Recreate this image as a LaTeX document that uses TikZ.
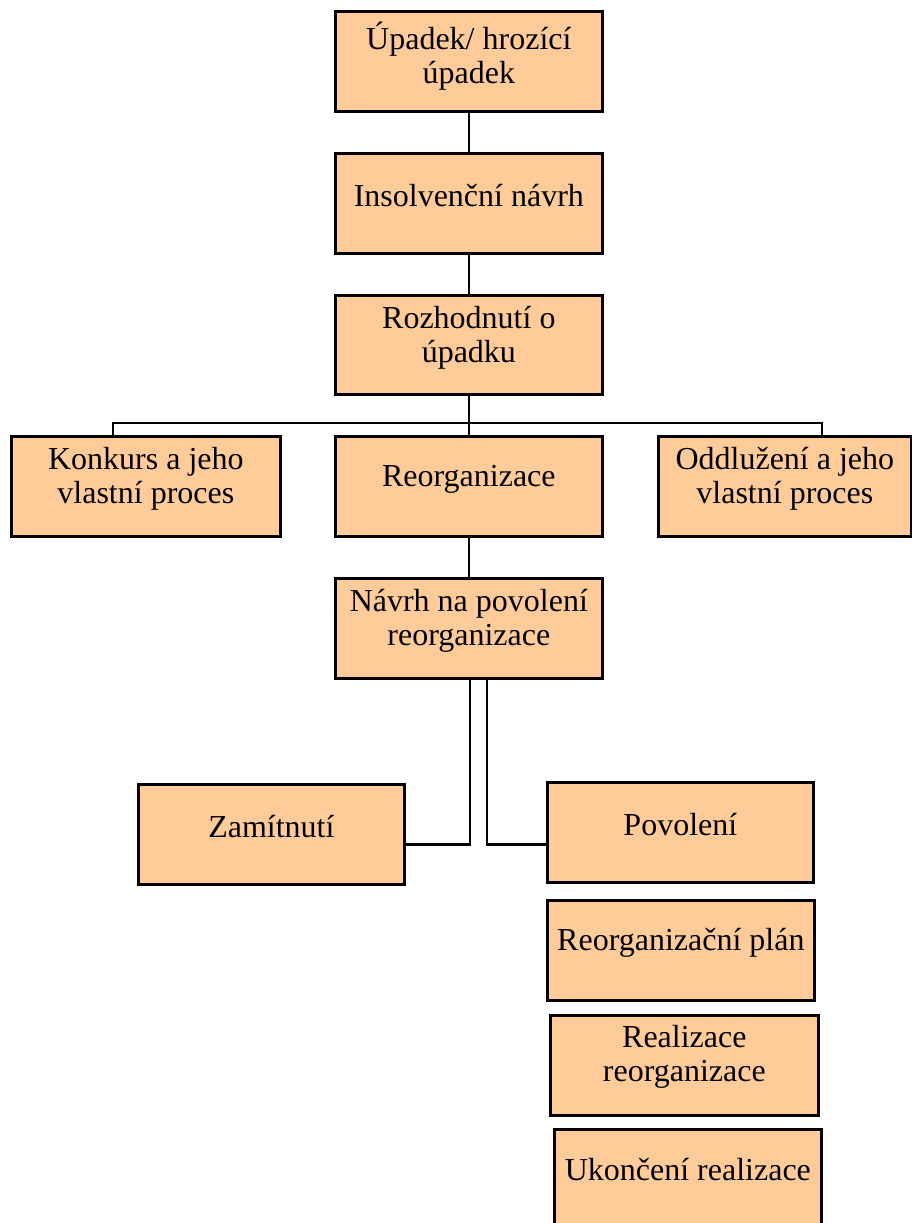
\documentclass[tikz,border=0pt]{standalone}
\usepackage{fontspec}
\setmainfont{Liberation Serif}
\definecolor{peach}{RGB}{255,204,153}
\begin{document}
\begin{tikzpicture}[x=1pt,y=-1pt,
  box/.style={draw=black, line width=2.7pt, fill=peach, rectangle, inner sep=0pt, anchor=north west},
  lbl/.style={align=center, inner sep=0pt, font=\fontsize{32}{33.5}\selectfont},
  conn/.style={draw=black, line width=2.6pt}]
\useasboundingbox (0,0) rectangle (911,1223);
% boxes
\node[box, minimum width=267pt, minimum height=100pt] (A) at (334,10) {};
\node[box, minimum width=267pt, minimum height=100pt] (B) at (334,152) {};
\node[box, minimum width=267pt, minimum height=99pt]  (C) at (334,294) {};
\node[box, minimum width=269pt, minimum height=100pt] (D) at (10,435) {};
\node[box, minimum width=267pt, minimum height=100pt] (E) at (334,435) {};
\node[box, minimum width=253pt, minimum height=100pt] (F) at (657,435) {};
\node[box, minimum width=267pt, minimum height=100pt] (G) at (334,577) {};
\node[box, minimum width=266pt, minimum height=100pt] (H) at (137,783) {};
\node[box, minimum width=266pt, minimum height=100pt] (I) at (546,781) {};
\node[box, minimum width=267pt, minimum height=100pt] (J) at (546,899) {};
\node[box, minimum width=268pt, minimum height=100pt] (K) at (549,1014) {};
\node[box, minimum width=267pt, minimum height=100pt] (L) at (553,1128) {};
% texts
\node[lbl] (At) at ([yshift=-46pt]A.north) {Úpadek/ hrozící\\úpadek};
\node[lbl] (Bt) at ([yshift=-44pt]B.north) {Insolvenční návrh};
\node[lbl] (Ct) at ([yshift=-44pt]C.north) {Rozhodnutí o\\úpadku};
\node[lbl] (Dt) at ([yshift=-44pt]D.north) {Konkurs a jeho\\vlastní proces};
\node[lbl] (Et) at ([yshift=-44pt]E.north) {Reorganizace};
\node[lbl] (Ft) at ([yshift=-44pt]F.north) {Oddlužení a jeho\\vlastní proces};
\node[lbl] (Gt) at ([yshift=-44pt]G.north) {Návrh na povolení\\reorganizace};
\node[lbl] (Ht) at ([yshift=-44pt]H.north) {Zamítnutí};
\node[lbl] (It) at ([yshift=-44pt]I.north) {Povolení};
\node[lbl] (Jt) at ([yshift=-44pt]J.north) {Reorganizační plán};
\node[lbl] (Kt) at ([yshift=-43pt]K.north) {Realizace\\reorganizace};
\node[lbl] (Lt) at ([yshift=-42pt]L.north) {Ukončení realizace};
% connectors
\draw[conn] (A.south) -- (B.north);
\draw[conn] (B.south) -- (C.north);
\draw[conn] (C.south) -- (E.north);
\coordinate (bl) at (113,423);
\coordinate (br) at (822,423);
\draw[conn] (D.north -| bl) -- (bl) -- (br) -- (F.north -| br);
\draw[conn] (E.south) -- (G.north);
\draw[conn] ([xshift=1pt]G.south) |- ([yshift=-10pt]H.east);
\draw[conn] ([xshift=18pt]G.south) |- ([yshift=-12pt]I.west);
\end{tikzpicture}
\end{document}
